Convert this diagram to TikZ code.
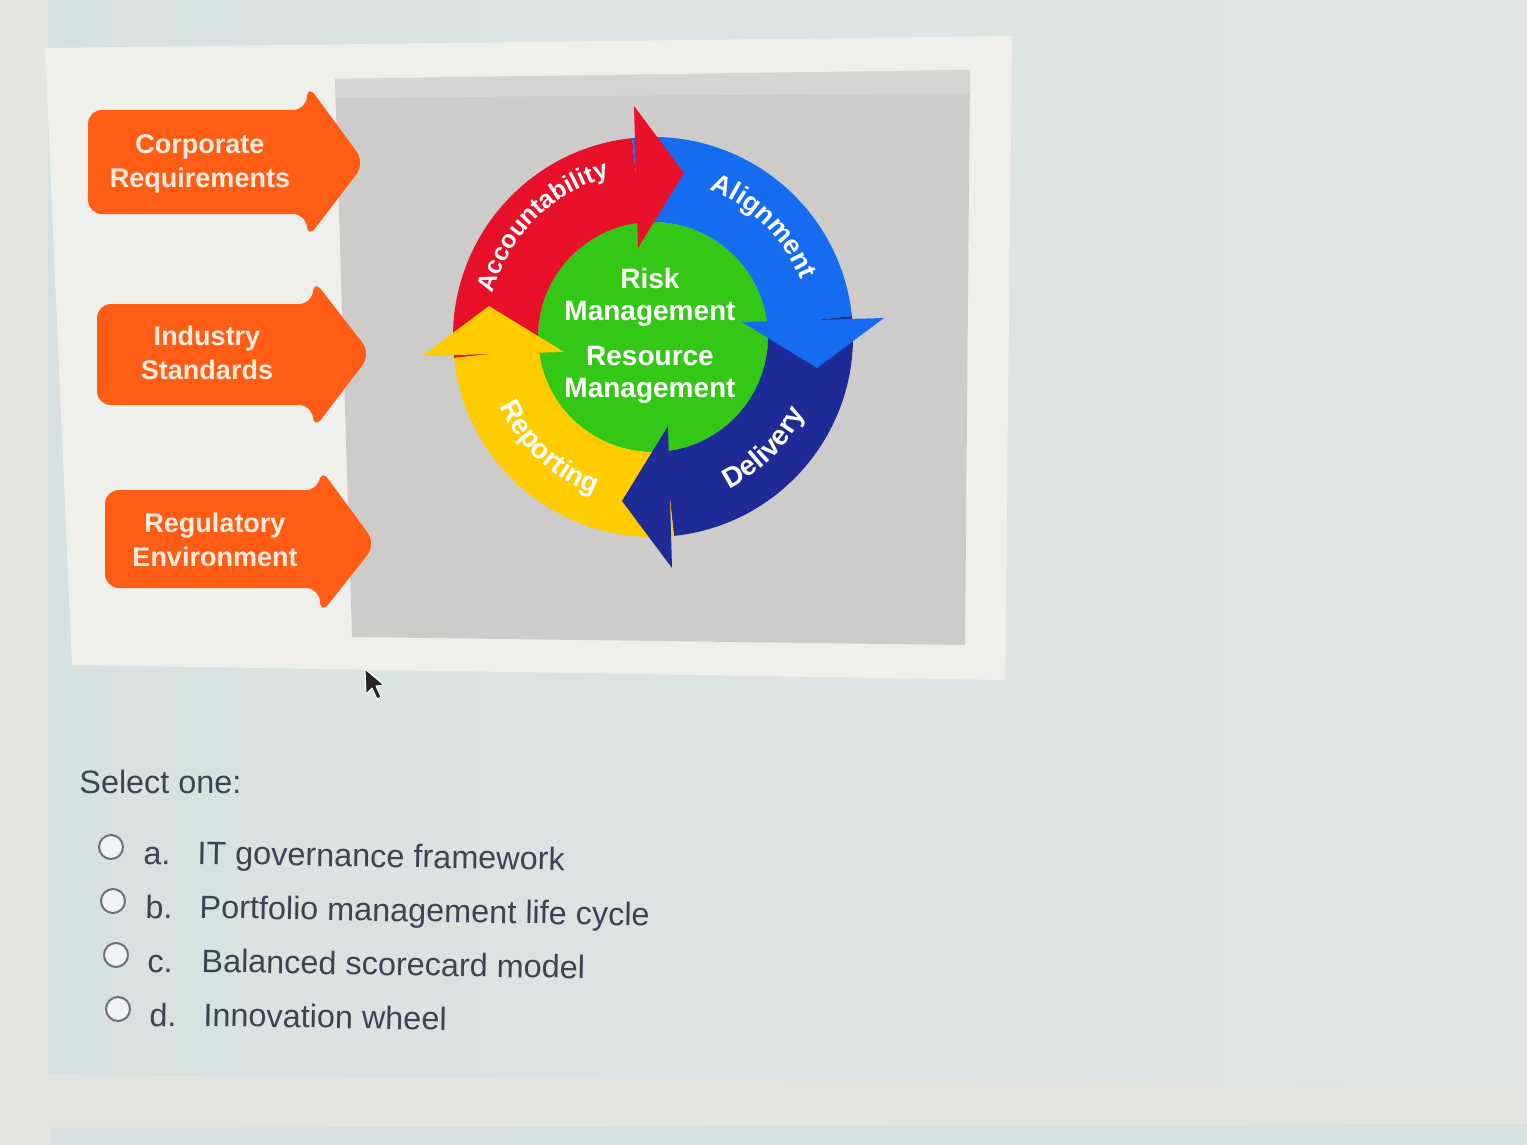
\documentclass[tikz,border=0pt]{standalone}
\usepackage{fontspec}
\setmainfont{Liberation Sans}
\usetikzlibrary{decorations.text}
\definecolor{pagecol}{RGB}{229,230,226}
\definecolor{quizcol}{RGB}{214,226,225}
\definecolor{quizlight}{RGB}{226,232,230}
\definecolor{framecol}{RGB}{239,239,236}
\definecolor{panelcol}{RGB}{206,204,203}
\definecolor{stripcol}{RGB}{215,213,212}
\definecolor{orangecol}{RGB}{255,92,22}
\definecolor{orangetext}{RGB}{253,236,222}
\definecolor{redcol}{RGB}{232,16,40}
\definecolor{bluecol}{RGB}{22,108,240}
\definecolor{navycol}{RGB}{30,42,150}
\definecolor{yellowcol}{RGB}{255,204,0}
\definecolor{greencol}{RGB}{52,200,22}
\definecolor{textcol}{RGB}{60,68,84}
\definecolor{radiocol}{RGB}{110,114,120}
\newcommand\ringfont{\bfseries\fontsize{14}{14}\selectfont}
\begin{document}
\begin{tikzpicture}[x=0.5pt, y=0.5pt, font=\fontsize{16.2}{19}\selectfont, line join=round, line cap=round, >=stealth]
	\tikzset{orange arrow/.style={fill=orangecol, rounded corners=7pt},
		arrow label/.style={text=orangetext, font=\bfseries\fontsize{13.5}{17}\selectfont, align=center},
		wheel label/.style={text=white, font=\bfseries\fontsize{14}{16}\selectfont, align=center},
		option/.style={anchor=base west, text=textcol, inner sep=0pt, rotate=-1},
		radio/.style={circle, draw=radiocol, line width=1pt, fill=white!60!quizcol, minimum size=12pt, inner sep=0pt}}
	%Kich thuoc vong tron
	\def \Ro{200}
	\def \Ri{115}
	\useasboundingbox (0,0) rectangle (1527,-1145);
	
	%Nen
	\fill[pagecol] (0,0) rectangle (1527,-1145);
	\shade[left color=quizcol, right color=quizlight] (48,0) -- (1527,0) -- (1527,-1085) -- (48,-1075) -- cycle;
	\fill[quizcol] (50,-1128) -- (1527,-1124) -- (1527,-1145) -- (50,-1145) -- cycle;
	\fill[framecol] (45,-48) -- (1012,-36) -- (1005,-680) -- (72,-665) -- cycle;
	\fill[panelcol] (335,-79) -- (970,-70) -- (965,-645) -- (352,-637) -- cycle;
	\fill[stripcol] (335,-79) -- (970,-70) -- (970,-93) -- (336,-98) -- cycle;
	
	%Mui ten cam
	\fill[orange arrow] (88,-110) -- (307,-110) -- (307,-84) -- (365,-163) -- (307,-239) -- (307,-214) -- (88,-214) -- cycle;
	\fill[orange arrow] (97,-304) -- (313,-304) -- (313,-279) -- (371,-354) -- (313,-430) -- (313,-405) -- (97,-405) -- cycle;
	\fill[orange arrow] (105,-490) -- (320,-490) -- (320,-468) -- (376,-544) -- (320,-615) -- (320,-588) -- (105,-588) -- cycle;
	\node[arrow label] (corporate) at (200,-164) {Corporate\\Requirements};
	\node[arrow label] (industry) at (207,-353) {Industry\\Standards};
	\node[arrow label] (regulatory) at (215,-540) {Regulatory\\Environment};
	
	%Vong tron
	\begin{scope}[shift={(653,-337)}]
		\fill[greencol] (0,0) circle(\Ri);
		\fill[redcol] (186:\Ro) arc[start angle=186, end angle=96, radius=\Ro] -- (96:\Ri) arc[start angle=96, end angle=186, radius=\Ri] -- cycle;
		\fill[bluecol] (96:\Ro) arc[start angle=96, end angle=6, radius=\Ro] -- (6:\Ri) arc[start angle=6, end angle=96, radius=\Ri] -- cycle;
		\fill[navycol] (6:\Ro) arc[start angle=6, end angle=-84, radius=\Ro] -- (-84:\Ri) arc[start angle=-84, end angle=6, radius=\Ri] -- cycle;
		\fill[yellowcol] (-84:\Ro) arc[start angle=-84, end angle=-174, radius=\Ro] -- (-174:\Ri) arc[start angle=-174, end angle=-84, radius=\Ri] -- cycle;
		%Dau mui ten
		\fill[redcol] (-15,89) -- (-19,231) -- (31,164) -- cycle;
		\fill[bluecol, rotate=-90] (-15,89) -- (-19,231) -- (31,164) -- cycle;
		\fill[navycol, rotate=-180] (-15,89) -- (-19,231) -- (31,164) -- cycle;
		\fill[yellowcol, rotate=90] (-15,89) -- (-19,231) -- (31,164) -- cycle;
		%Chu tren vong
		\path[decorate, decoration={text along path, text align=center, text color=white, text={|\bfseries\fontsize{12.5}{12.5}\selectfont|Accountability}}] (180:166) arc[start angle=180, end angle=90, radius=166];
		\path[decorate, decoration={text along path, text align=center, text color=white, text={|\bfseries\fontsize{13.5}{13.5}\selectfont|Alignment}}] (90:158) arc[start angle=90, end angle=0, radius=158];
		\path[decorate, decoration={text along path, text align=center, text color=white, text={|\ringfont|Delivery}}] (-90:170) arc[start angle=-90, end angle=0, radius=170];
		\path[decorate, decoration={text along path, text align=center, text color=white, text={|\ringfont|Reporting}}] (182:168) arc[start angle=182, end angle=272, radius=168];
		\node[wheel label] (risk) at (-3,40) {Risk\\Management};
		\node[wheel label] (resource) at (-3,-38) {Resource\\Management};
	\end{scope}
	
	%Con tro chuot
	\fill[black!85, draw=white, line width=0.5pt] (365,-669) -- (366,-694) -- (372,-688) -- (377,-699) -- (381,-697) -- (376,-686) -- (384,-685) -- cycle;
	
	%Cau hoi
	\node[anchor=base west, text=textcol, inner sep=0pt] (select) at (79,-793) {Select one:};
	\node[radio] (ra) at (111,-847) {};
	\node[option] (la) at (143,-864) {a.};
	\node[option] (ta) at (197,-864) {IT governance framework};
	\node[radio] (rb) at (113,-901) {};
	\node[option] (lb) at (145,-918) {b.};
	\node[option] (tb) at (199,-918) {Portfolio management life cycle};
	\node[radio] (rc) at (116,-955) {};
	\node[option] (lc) at (147,-972) {c.};
	\node[option] (tc) at (201,-972) {Balanced scorecard model};
	\node[radio] (rd) at (118,-1009) {};
	\node[option] (ld) at (149,-1026) {d.};
	\node[option] (td) at (203,-1026) {Innovation wheel};
\end{tikzpicture}
\end{document}
